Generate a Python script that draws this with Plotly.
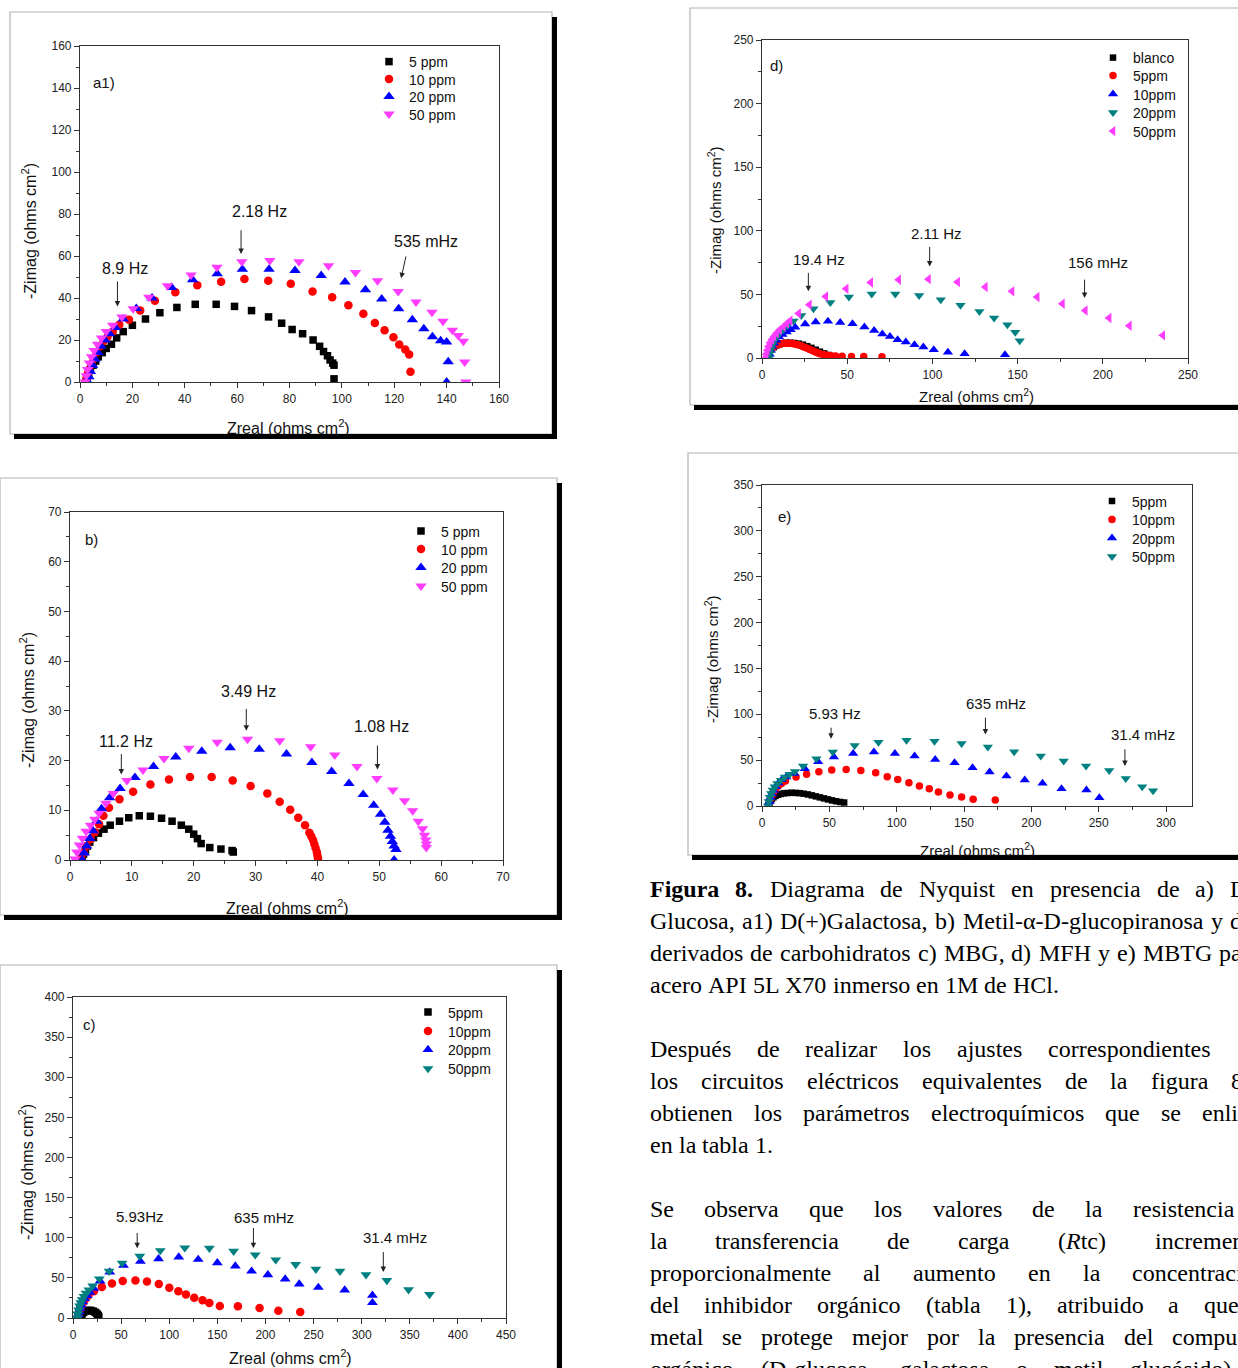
import plotly.graph_objects as go

W, H = 1238, 1368


def px(x):
    return x / W


def py(y):
    return 1 - y / H


# ---------------- DATA ----------------
# a1) D(+)Galactosa
a1_5ppm_x = [2.3, 2.8, 3.3, 4, 5, 6, 7, 8.5, 10, 12, 14, 16.5, 20, 25, 30.5, 37, 44, 52, 59, 65.5, 72, 77, 81, 85, 89, 91.5, 93, 94.5, 95.5, 96.5, 97, 97]
a1_5ppm_y = [0, 2, 4, 6, 8, 10, 12, 14, 16, 18, 21, 24, 27, 30, 33, 35.5, 37, 37, 36, 34, 31, 28, 25, 23, 20, 17, 14.5, 12.5, 10.5, 9, 8, 1.5]
a1_10ppm_x = [2, 2.5, 3, 3.5, 4.3, 5.2, 6.3, 7.6, 9, 10.5, 12.5, 15, 18.7, 23, 28.6, 36.4, 44.8, 53.9, 62.8, 71.9, 80.5, 88.8, 96.3, 102.5, 108.2, 112.6, 116.3, 119.7, 121.9, 124.2, 125.7, 126.2]
a1_10ppm_y = [0, 2, 4, 6, 8.5, 11, 14, 17, 19.5, 21.5, 24, 27.3, 29.7, 34, 38.7, 42.7, 46.1, 47.7, 49, 48.2, 46.8, 43.1, 40.4, 36.5, 32.5, 28.1, 24.6, 21.3, 17.9, 15.5, 13.1, 4.9]
a1_20ppm_x = [3, 3.4, 4, 4.8, 5.7, 6.8, 8, 9.5, 11.3, 13.5, 16.5, 21.5, 27.5, 35, 43, 52.4, 62, 72.2, 82.1, 92.1, 101.2, 109, 115.2, 121.7, 126.9, 131.3, 134.6, 137.7, 140, 140.6, 140]
a1_20ppm_y = [0, 2.5, 5, 8, 11, 14, 17, 20, 23, 26, 30, 35, 40, 45, 48.7, 51.5, 53.7, 53.7, 53.1, 50.7, 47.6, 43.9, 39.5, 34.9, 29.7, 25.3, 21.5, 19.7, 19, 9.6, 0]
a1_50ppm_x = [2, 2.4, 2.9, 3.6, 4.4, 5.4, 6.7, 8.2, 10, 12.5, 16, 20.3, 26.3, 33.4, 42.4, 52.3, 61.8, 72.5, 83.6, 94.9, 105.2, 113.6, 121.5, 128.3, 134.4, 138.6, 142.2, 144.4, 146.4, 146.9, 147.3]
a1_50ppm_y = [0, 3, 6, 9, 12, 15, 18, 21, 24, 27, 31, 34.9, 40.4, 45.8, 51, 54.7, 57.3, 57.8, 57.3, 55.3, 52.1, 48.2, 43.1, 38.1, 33.2, 28.9, 24.6, 22.1, 19.4, 9.5, 0]

# b) Metil-alfa-D-glucopiranosa
b_5ppm_x = [2.0, 2.2, 2.5, 2.8, 3.2, 3.8, 4.6, 5.5, 6.5, 8.0, 9.5, 11.2, 13.0, 14.8, 16.5, 18.0, 19.2, 20.0, 20.6, 21.2, 22.6, 24.4, 26.2, 26.4]
b_5ppm_y = [0.3, 1.2, 2.0, 2.8, 3.6, 4.5, 5.4, 6.2, 7.0, 7.8, 8.5, 8.9, 8.8, 8.4, 7.8, 7.0, 6.2, 5.2, 4.3, 3.3, 2.5, 2.2, 1.9, 1.6]
b_10ppm_x = [1.8, 2.2, 2.7, 3.3, 4.0, 4.7, 5.4, 6.3, 8.0, 10.2, 13.0, 16.0, 19.4, 22.9, 26.3, 29.2, 31.9, 33.9, 35.6, 36.9, 38.0, 38.7, 39.0, 39.3, 39.5, 39.7, 39.9, 40.0, 40.1]
b_10ppm_y = [0.3, 1.5, 2.8, 4.2, 5.6, 7.2, 8.9, 10.5, 12.2, 13.75, 15.2, 16.2, 16.7, 16.7, 16.0, 14.9, 13.4, 11.7, 10.1, 8.5, 7.0, 5.5, 4.8, 4.0, 3.2, 2.4, 1.6, 0.9, 0.3]
b_20ppm_x = [2.0, 2.3, 2.7, 3.2, 3.7, 4.3, 5.1, 6.4, 8.1, 10.5, 13.5, 17.1, 21.3, 25.9, 30.6, 35.0, 39.1, 42.3, 45.1, 47.4, 49.1, 50.2, 50.9, 51.4, 51.8, 52.1, 52.4, 52.7, 52.4]
b_20ppm_y = [0.0, 1.4, 2.8, 4.3, 5.9, 7.8, 10.3, 12.5, 14.4, 16.6, 18.8, 20.7, 21.9, 22.6, 22.3, 21.3, 19.6, 17.8, 15.4, 13.2, 11.0, 9.2, 7.6, 6.0, 4.8, 3.7, 2.8, 2.1, 0.0]
b_50ppm_x = [0.8, 1.1, 1.5, 2.0, 2.6, 3.3, 4.0, 4.7, 5.8, 7.0, 9.2, 11.8, 15.2, 19.2, 23.8, 28.7, 33.9, 38.9, 42.8, 46.4, 49.6, 52.2, 54.1, 55.4, 56.3, 57.0, 57.3, 57.5, 57.6, 57.6]
b_50ppm_y = [0.2, 1.6, 3.0, 4.4, 5.8, 7.0, 8.2, 9.4, 11.4, 13.4, 16.0, 18.1, 20.4, 22.5, 23.7, 24.3, 24.0, 22.8, 21.1, 18.8, 16.4, 14.1, 11.9, 9.9, 7.8, 6.3, 5.0, 4.0, 3.2, 2.5]

# c) MBG
c_5ppm_x = [8, 8.5, 9.5, 11, 13, 15, 17, 19, 21, 23, 24.5, 25.5, 26.3, 26.8]
c_5ppm_y = [0, 2.5, 5, 7, 8.5, 9.3, 9.6, 9.3, 8.5, 7.2, 5.8, 4.3, 2.8, 1.3]
c_10ppm_x = [5, 5.5, 6.5, 7.5, 9, 11, 13, 16, 21.7, 30, 40.5, 51.7, 64.9, 76.9, 89.2, 100.1, 109.5, 117.4, 126, 134.6, 141.7, 152.6, 171.4, 193.9, 213.4, 236.2]
c_10ppm_y = [0, 4, 8, 12, 16, 20, 24, 28, 33.2, 38.5, 43.1, 46, 46.8, 45.6, 42.3, 37.7, 33.2, 29.4, 25.3, 22, 18.7, 14.9, 14.5, 12.4, 9.1, 7.5]
c_20ppm_x = [5, 5.5, 6.3, 7.3, 8.5, 10, 12, 14.5, 17.5, 21.5, 28.1, 38.2, 52.5, 70.1, 88.9, 109.9, 130.1, 150, 168.7, 185.6, 202.5, 220.5, 235.1, 255, 282.4, 311.2, 311.2]
c_20ppm_y = [0, 4, 8, 12, 16, 20, 24, 28, 32, 37, 46, 57.2, 65.5, 70.5, 73.8, 75.9, 73, 68.8, 64.7, 58.4, 53.9, 48.5, 42.3, 38.1, 34.8, 28.2, 19.1]
c_50ppm_x = [4.5, 5, 5.8, 6.8, 8, 9.5, 11.3, 13.5, 16.5, 20.5, 27.4, 37.5, 51, 69.4, 90.7, 116.2, 141.7, 166.9, 189.4, 210.7, 231.4, 252.4, 277.5, 304.5, 326.2, 348.7, 370.5]
c_50ppm_y = [0, 5, 10, 15, 19, 23, 27, 31, 35, 40, 48.9, 58.4, 68.4, 77.1, 84.1, 87.5, 87, 83.3, 78.8, 72.5, 66.7, 60.9, 58.4, 53.9, 46.8, 35.2, 29.4]

# d) MFH
d_blanco_x = [3, 3.5, 4.5, 5.5, 7, 8.5, 10, 12, 14, 16.5, 19, 21.5, 24, 26.5, 29, 31.5, 34, 36.5, 39, 41.5]
d_blanco_y = [0, 2.5, 5, 7, 8.5, 10, 10.8, 11.5, 12, 12, 11.8, 11.3, 10.5, 9.3, 8, 6.5, 5, 3.6, 2.4, 1.5]
d_5ppm_x = [3, 3.5, 4.2, 5, 6, 7.2, 8.5, 10, 11.5, 13, 14.5, 16, 17.5, 19, 20.5, 22, 23.5, 25, 26.5, 28, 29.5, 31, 32.5, 34, 36, 38, 40.5, 43.2, 47, 52.5, 59.7, 70.4]
d_5ppm_y = [0, 2.5, 4.5, 6.3, 7.8, 9, 10, 10.7, 11.2, 11.5, 11.6, 11.6, 11.4, 11.1, 10.6, 10, 9.3, 8.5, 7.6, 6.7, 5.8, 4.9, 4.1, 3.4, 2.7, 2.2, 1.8, 1.5, 1.3, 1.2, 1.1, 1.0]
d_10ppm_x = [4, 4.5, 5.2, 6, 7, 8.3, 10, 12, 14.5, 16.8, 19.5, 25.3, 31.5, 38.7, 45.9, 53.1, 60.1, 65.8, 70.6, 75.1, 79.6, 84.4, 89.5, 94.7, 100.8, 109.1, 118.9, 142.6]
d_10ppm_y = [0, 3, 6, 9, 11.5, 14, 16.5, 18.5, 20.5, 22.3, 24.1, 26.7, 28.3, 28.8, 28, 27, 24.3, 21.7, 18.8, 17, 14.4, 12.6, 10.5, 8.6, 6.5, 4.5, 3.4, 2.6]
d_20ppm_x = [4, 4.5, 5.2, 6, 7, 8.5, 10.3, 12.5, 15, 18.5, 23, 30.2, 40.1, 51, 64.4, 78.2, 92.2, 104.9, 116.5, 127.6, 136.2, 144, 148.6, 151.2]
d_20ppm_y = [0, 3.5, 7, 10.5, 13.5, 16.5, 19.5, 22.5, 25.5, 29, 33.5, 38.7, 43.7, 47.9, 50.3, 50.3, 49.2, 45.8, 41.4, 36.6, 31.4, 26.2, 20.2, 13.6]
d_50ppm_x = [2, 2.5, 3.1, 3.8, 4.7, 5.8, 7, 8.5, 10.3, 12.5, 14.5, 16.5, 21.5, 27.8, 37.4, 49.4, 63.8, 80.2, 97.7, 114.8, 131.1, 146.7, 161.5, 176.3, 189.7, 203.7, 215.6, 235.2]
d_50ppm_y = [0, 3, 6, 9, 12, 14.5, 17, 19.5, 22, 24.5, 27, 29.3, 35, 41.9, 48.4, 54.5, 59.4, 61.5, 62, 59.7, 55.8, 52.4, 47.9, 42.7, 37.4, 31.4, 25.4, 17.8]

# e) MBTG
e_5ppm_x = [5, 5.5, 6.3, 7.3, 8.5, 10, 12, 14, 16.5, 19, 22, 25, 28, 31, 34, 37, 40, 43, 46, 49, 52, 55, 58, 61]
e_5ppm_y = [0, 3, 5.5, 7.5, 9.5, 11, 12.3, 13.2, 13.8, 14.2, 14.4, 14.3, 14, 13.4, 12.6, 11.6, 10.5, 9.4, 8.3, 7.2, 6.1, 5.2, 4.4, 3.8]
e_10ppm_x = [5, 5.5, 6.3, 7.3, 8.5, 10, 12, 14.5, 17.4, 25.3, 33.1, 42.2, 51.8, 62.5, 73.4, 84.4, 93, 100.8, 109.1, 116.9, 124.2, 131, 139.6, 148.2, 156.8, 173.2]
e_10ppm_y = [0, 4, 8, 11.5, 15, 18.5, 21.5, 24.5, 27.2, 31.6, 34.5, 37.4, 39.2, 39.9, 38.8, 36.3, 31.9, 29, 25.4, 21.8, 18.9, 15.2, 12, 9.8, 7.3, 6.5]
e_20ppm_x = [5, 5.5, 6.3, 7.3, 8.6, 10.2, 12.2, 14.7, 18, 24, 31.8, 41.7, 53.4, 67.7, 83.1, 98.7, 113.3, 128.6, 143, 156.3, 169, 181.5, 195.1, 208.3, 222.4, 240.9, 250.5]
e_20ppm_y = [0, 4.5, 9, 13, 17, 21, 25, 28.5, 31.5, 35.5, 40.6, 48.2, 53.3, 57.3, 58.8, 57.3, 54.4, 50.8, 47.2, 41.7, 37, 32.6, 28.3, 24.7, 18.9, 17.4, 9.1]
e_50ppm_x = [4.5, 5, 5.8, 6.8, 8, 9.5, 11.5, 14, 17, 20.5, 24.5, 30.5, 40.4, 52.6, 68.8, 86.5, 107.3, 128.1, 148.2, 167.7, 187.2, 207, 224, 240.6, 257.8, 270.1, 282.3, 290.4]
e_50ppm_y = [0, 5, 9.5, 13.5, 17.5, 21, 24.5, 28, 31.5, 34.5, 37.5, 43.5, 51.5, 58.8, 66, 69.6, 71.8, 70.7, 68.2, 64.2, 59.1, 54.4, 49, 43.5, 38.8, 30.1, 21, 16.7]

# frequency labels: (text, label x, label y, arrow tail x, tail y, head x, head y) in data units
a1_freq = [("8.9 Hz", 17, 54, 14.3, 48.6, 14.3, 36), ("2.18 Hz", 68.4, 81.3, 61.5, 73, 61.5, 61), ("535 mHz", 132, 66.8, 124.6, 60.5, 122.6, 49.4)]
b_freq = [("11.2 Hz", 9.0, 23.9, 8.3, 21.6, 8.3, 17.2), ("3.49 Hz", 28.9, 33.9, 28.5, 30.7, 28.5, 26.0), ("1.08 Hz", 50.4, 26.8, 49.7, 23.3, 49.7, 18.2)]
c_freq = [("5.93Hz", 69.4, 126.8, 66.7, 107.8, 66.7, 87), ("635 mHz", 198.7, 124.8, 187.5, 114, 187.5, 87), ("31.4 mHz", 334.5, 100.7, 322.5, 84.1, 322.5, 57.2)]
d_freq = [("19.4 Hz", 33.3, 77.7, 27.2, 68.1, 27.2, 52.4), ("2.11 Hz", 102.3, 97.9, 98.4, 88.5, 98.4, 72), ("156 mHz", 197.1, 75.1, 189.3, 62.8, 189.3, 47.1)]
e_freq = [("5.93 Hz", 53.9, 100.5, 51.3, 87, 51.3, 73.3), ("635 mHz", 173.7, 111.4, 165.9, 97.9, 165.9, 78), ("31.4 mHz", 282.6, 78, 269.5, 63.5, 269.5, 43.5)]

# body text (words per line)
body_lines = [
    ["<b>Figura</b>", "<b>8.</b>", "Diagrama", "de", "Nyquist", "en", "presencia", "de", "a)", "D-Glucosa,"],
    ["Glucosa,", "a1)", "D(+)Galactosa,", "b)", "Metil-α-D-glucopiranosa", "y", "de"],
    ["derivados", "de", "carbohidratos", "c)", "MBG,", "d)", "MFH", "y", "e)", "MBTG", "para"],
    ["acero", "API", "5L", "X70", "inmerso", "en", "1M", "de", "HCl."],
    ["Después", "de", "realizar", "los", "ajustes", "correspondientes"],
    ["los", "circuitos", "eléctricos", "equivalentes", "de", "la", "figura", "8"],
    ["obtienen", "los", "parámetros", "electroquímicos", "que", "se", "enlistan"],
    ["en", "la", "tabla", "1."],
    ["Se", "observa", "que", "los", "valores", "de", "la", "resistencia"],
    ["la", "transferencia", "de", "carga", "(<i>R</i>tc)", "incrementan"],
    ["proporcionalmente", "al", "aumento", "en", "la", "concentración"],
    ["del", "inhibidor", "orgánico", "(tabla", "1),", "atribuido", "a", "que"],
    ["metal", "se", "protege", "mejor", "por", "la", "presencia", "del", "compuesto"],
    ["orgánico", "(D-glucosa,", "galactosa", "o", "metil", "glucósido)"],
]

# ---------------- STYLE / LAYOUT ----------------
BLACK, RED, BLUE, MAGENTA, TEAL = "#000000", "#ff0000", "#0000ff", "#ff3cff", "#008080"
SANS = "Liberation Sans"
SERIF = "Liberation Serif"
AX = "#333333"

panels = [
    dict(label="a1)", lab=(9, 142.6), box=(10, 12, 552, 434), area=(80, 46, 499, 382),
         xr=[0, 160], yr=[0, 160], xd=20, yd=20, xm=10, ym=10,
         series=[("5 ppm", a1_5ppm_x, a1_5ppm_y, "square", BLACK, 7.5),
                 ("10 ppm", a1_10ppm_x, a1_10ppm_y, "circle", RED, 8.5),
                 ("20 ppm", a1_20ppm_x, a1_20ppm_y, "triangle-up", BLUE, 10),
                 ("50 ppm", a1_50ppm_x, a1_50ppm_y, "triangle-down", MAGENTA, 10)],
         leg_x=389, leg_rows=[62, 79.5, 97, 114.5], freq=a1_freq, fs=16,
         ytitle=(29, 231), xtitle=(288, 427)),
    dict(label="b)", lab=(3.5, 64.5), box=(0, 478, 557, 915), area=(70, 512, 503, 860),
         xr=[0, 70], yr=[0, 70], xd=10, yd=10, xm=5, ym=5,
         series=[("5 ppm", b_5ppm_x, b_5ppm_y, "square", BLACK, 7.5),
                 ("10 ppm", b_10ppm_x, b_10ppm_y, "circle", RED, 8.5),
                 ("20 ppm", b_20ppm_x, b_20ppm_y, "triangle-up", BLUE, 10),
                 ("50 ppm", b_50ppm_x, b_50ppm_y, "triangle-down", MAGENTA, 10)],
         leg_x=421, leg_rows=[531.5, 549.5, 568, 586.5], freq=b_freq, fs=16,
         ytitle=(27, 700), xtitle=(287, 907)),
    dict(label="c)", lab=(16.9, 366), box=(0, 965, 557, 1380), area=(73, 997, 506, 1318),
         xr=[0, 450], yr=[0, 400], xd=50, yd=50, xm=25, ym=25,
         series=[("5ppm", c_5ppm_x, c_5ppm_y, "square", BLACK, 7.5),
                 ("10ppm", c_10ppm_x, c_10ppm_y, "circle", RED, 8.5),
                 ("20ppm", c_20ppm_x, c_20ppm_y, "triangle-up", BLUE, 9.5),
                 ("50ppm", c_50ppm_x, c_50ppm_y, "triangle-down", TEAL, 9.5)],
         leg_x=428, leg_rows=[1012.5, 1031.5, 1050, 1069], freq=c_freq, fs=15,
         ytitle=(26, 1172), xtitle=(290, 1357)),
    dict(label="d)", lab=(8.6, 229.8), box=(690, 8, 1250, 405), area=(762, 40, 1188, 358),
         xr=[0, 250], yr=[0, 250], xd=50, yd=50, xm=25, ym=25,
         series=[("blanco", d_blanco_x, d_blanco_y, "square", BLACK, 6.5),
                 ("5ppm", d_5ppm_x, d_5ppm_y, "circle", RED, 7.5),
                 ("10ppm", d_10ppm_x, d_10ppm_y, "triangle-up", BLUE, 9),
                 ("20ppm", d_20ppm_x, d_20ppm_y, "triangle-down", TEAL, 9),
                 ("50ppm", d_50ppm_x, d_50ppm_y, "triangle-left", MAGENTA, 9)],
         leg_x=1113, leg_rows=[58, 76, 94.5, 113, 131.5], freq=d_freq, fs=15,
         ytitle=(714, 210), xtitle=(976, 395)),
    dict(label="e)", lab=(16.9, 315.5), box=(688, 453, 1250, 855), area=(762, 485, 1192, 806),
         xr=[0, 319.3], yr=[0, 350], xd=50, yd=50, xm=25, ym=25,
         series=[("5ppm", e_5ppm_x, e_5ppm_y, "square", BLACK, 6.5),
                 ("10ppm", e_10ppm_x, e_10ppm_y, "circle", RED, 7.5),
                 ("20ppm", e_20ppm_x, e_20ppm_y, "triangle-up", BLUE, 9),
                 ("50ppm", e_50ppm_x, e_50ppm_y, "triangle-down", TEAL, 9)],
         leg_x=1112, leg_rows=[501.5, 520, 538.5, 557], freq=e_freq, fs=15,
         ytitle=(712, 659), xtitle=(977, 849)),
]

fig = go.Figure()
layout = dict(width=W, height=H, margin=dict(l=0, r=0, t=0, b=0, pad=0, autoexpand=False),
              paper_bgcolor="white", plot_bgcolor="white", showlegend=True)
shapes, annotations = [], []
leg_n = 0

for i, p in enumerate(panels, start=1):
    xa = "xaxis" if i == 1 else f"xaxis{i}"
    ya = "yaxis" if i == 1 else f"yaxis{i}"
    xr_ = "x" if i == 1 else f"x{i}"
    yr_ = "y" if i == 1 else f"y{i}"
    l, t, r, b = p["area"]
    common = dict(showline=True, linecolor=AX, linewidth=1.2, mirror=True, ticks="outside",
                  ticklen=5, tickwidth=1.1, tickcolor=AX, showgrid=False, zeroline=False,
                  tickfont=dict(family=SANS, size=12, color="#222"), fixedrange=True)
    layout[xa] = dict(domain=[px(l), px(r)], range=p["xr"], dtick=p["xd"], tick0=0,
                      anchor=yr_, minor=dict(dtick=p["xm"], ticks="outside", ticklen=3,
                                             tickcolor=AX, showgrid=False), **common)
    layout[ya] = dict(domain=[py(b), py(t)], range=p["yr"], dtick=p["yd"], tick0=0,
                      anchor=xr_, minor=dict(dtick=p["ym"], ticks="outside", ticklen=3,
                                             tickcolor=AX, showgrid=False), **common)

    for k, (name, xs, ys, sym, col, size) in enumerate(p["series"]):
        leg_n += 1
        lname = "legend" if leg_n == 1 else f"legend{leg_n}"
        fig.add_trace(go.Scatter(x=xs, y=ys, mode="markers", name=name, xaxis=xr_, yaxis=yr_,
                                 legend=lname,
                                 marker=dict(symbol=sym, color=col, size=size, line=dict(width=0))))
        layout[lname] = dict(x=px(p["leg_x"] - 20), y=py(p["leg_rows"][k]), xanchor="left",
                             yanchor="middle", bgcolor="rgba(0,0,0,0)", borderwidth=0,
                             font=dict(family=SANS, size=14, color="#111"))

    # panel box + drop shadow
    bl, bt, br, bb = p["box"]
    shapes.append(dict(type="rect", xref="paper", yref="paper", x0=px(bl), x1=px(br),
                       y0=py(bb), y1=py(bt), line=dict(color="#b4b4b4", width=1.2),
                       fillcolor="rgba(0,0,0,0)", layer="below"))
    shapes.append(dict(type="rect", xref="paper", yref="paper", x0=px(br), x1=px(br + 5),
                       y0=py(bb + 5), y1=py(bt + 5), line=dict(width=0), fillcolor="black"))
    shapes.append(dict(type="rect", xref="paper", yref="paper", x0=px(bl + 4), x1=px(br + 5),
                       y0=py(bb + 5), y1=py(bb), line=dict(width=0), fillcolor="black"))

    annotations.append(dict(text=p["label"], x=p["lab"][0], y=p["lab"][1], xref=xr_, yref=yr_,
                            showarrow=False, xanchor="center", yanchor="middle",
                            font=dict(family=SANS, size=15, color="#111")))
    for (txt, lx, ly, tx, ty, hx, hy) in p["freq"]:
        annotations.append(dict(text=txt, x=lx, y=ly, xref=xr_, yref=yr_, showarrow=False,
                                xanchor="center", yanchor="middle",
                                font=dict(family=SANS, size=p["fs"], color="#111")))
        annotations.append(dict(text="", x=hx, y=hy, ax=tx, ay=ty, xref=xr_, yref=yr_,
                                axref=xr_, ayref=yr_, showarrow=True, arrowhead=2,
                                arrowsize=1.1, arrowwidth=1, arrowcolor="#222", standoff=0))
    fs_t = 16 if i <= 3 else 15
    annotations.append(dict(text="-Zimag (ohms cm<sup>2</sup>)", x=px(p["ytitle"][0]),
                            y=py(p["ytitle"][1]), xref="paper", yref="paper", showarrow=False,
                            textangle=-90, xanchor="center", yanchor="middle",
                            font=dict(family=SANS, size=fs_t, color="#111")))
    annotations.append(dict(text="Zreal (ohms cm<sup>2</sup>)", x=px(p["xtitle"][0]),
                            y=py(p["xtitle"][1]), xref="paper", yref="paper", showarrow=False,
                            xanchor="center", yanchor="middle",
                            font=dict(family=SANS, size=fs_t, color="#111")))

# ---------------- BODY TEXT (justified word placement) ----------------
# Times/Liberation Serif advance widths (1/1000 em)
TW = dict(zip("abcdefghijklmnopqrstuvwxyz",
              [444, 500, 444, 500, 444, 333, 500, 500, 278, 278, 500, 278, 778, 500, 500, 500,
               500, 333, 389, 278, 500, 500, 722, 500, 500, 444]))
TW.update(dict(zip("ABCDEFGHILMNPRSTX",
                   [722, 667, 667, 722, 611, 556, 722, 722, 333, 611, 889, 722, 556, 667, 556, 611, 722])))
TW.update({c: 500 for c in "0123456789"})
TW.update({"á": 444, "é": 444, "í": 278, "ó": 500, "ú": 500, ".": 250, ",": 250, "(": 333,
           ")": 333, "+": 564, "-": 333, "α": 520, " ": 250})
TWB = dict(TW)
TWB.update({"F": 611, "u": 556, "r": 444, "a": 500})
FS = 24
X0 = 648
line_y = [889, 921, 953, 985, 1049, 1081, 1113, 1145, 1209, 1241, 1273, 1305, 1337, 1369]
line_anchor = [(9, 1228), (6, 1228), (10, 1217), None, (5, 1046), (7, 1229), (6, 1200), None,
               (7, 1131), (5, 1153), (5, 1130), (7, 1202), (8, 1170), (5, 1128)]


def plain(w):
    for tag in ("<b>", "</b>", "<i>", "</i>"):
        w = w.replace(tag, "")
    return w


def width(w):
    tbl = TWB if w.startswith("<b>") else TW
    return sum(tbl.get(ch, 500) for ch in plain(w)) * FS / 1000


for y, words, anc in zip(line_y, body_lines, line_anchor):
    ws = [width(w) for w in words]
    if anc is None:
        gap = TW[" "] * FS / 1000
    else:
        k, xa_ = anc
        gap = (xa_ - X0 - sum(ws[:k])) / k
    x = X0
    for w, wd in zip(words, ws):
        annotations.append(dict(text=w, x=px(x), y=py(y), xref="paper", yref="paper",
                                showarrow=False, xanchor="left", yanchor="middle",
                                font=dict(family=SERIF, size=FS, color="#000")))
        x += wd + gap

layout["shapes"] = shapes
layout["annotations"] = annotations
fig.update_layout(**layout)
fig.write_html("out.html")
